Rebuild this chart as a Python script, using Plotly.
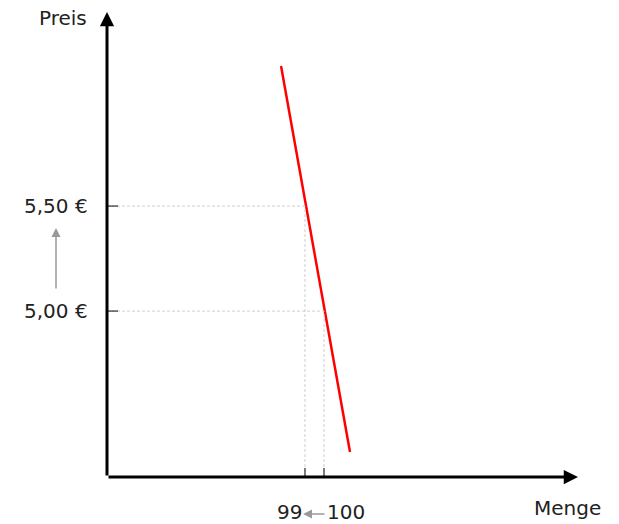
import plotly.graph_objects as go

# Daten
menge_linie = [97.74, 101.37]
preis_linie = [6.167, 4.329]
preis_ticks = [5.50, 5.00]
preis_labels = ["5,50 €", "5,00 €"]
menge_ticks = [99, 100]
menge_labels = ["99", "100"]

x_min, x_max = 88.58, 113.37
y_min, y_max = 4.21, 6.424

schrift = dict(family="DejaVu Sans", size=20, color="#222")
grau = "#cfcfcf"

fig = go.Figure()
fig.add_trace(go.Scatter(x=menge_linie, y=preis_linie, mode="lines",
                         line=dict(color="red", width=2.5), hoverinfo="skip"))

shapes = []
annotations = []

# gestrichelte Hilfslinien + Ticks
for p, m in zip(preis_ticks, menge_ticks):
    shapes.append(dict(type="line", xref="x", yref="y", x0=x_min, x1=m, y0=p, y1=p,
                       line=dict(color=grau, width=1, dash="3px,2px")))
    shapes.append(dict(type="line", xref="x", yref="y", x0=m, x1=m, y0=y_min, y1=p,
                       line=dict(color=grau, width=1, dash="3px,2px")))
    # Tick an der y-Achse
    shapes.append(dict(type="line", xref="x", yref="y", xsizemode="pixel", xanchor=x_min,
                       x0=-10, x1=11, y0=p, y1=p, line=dict(color="#555", width=1.5)))
    # Tick an der x-Achse
    shapes.append(dict(type="line", xref="x", yref="y", ysizemode="pixel", yanchor=y_min,
                       y0=-11, y1=9, x0=m, x1=m, line=dict(color="#555", width=1.5)))

for p, txt in zip(preis_ticks, preis_labels):
    annotations.append(dict(text=txt, xref="paper", x=0, xshift=-17, xanchor="right",
                            yref="y", y=p, yanchor="middle", showarrow=False, font=schrift))

for m, txt, dx in zip(menge_ticks, menge_labels, [-15, 22]):
    annotations.append(dict(text=txt, xref="x", x=m, xshift=dx, xanchor="center",
                            yref="paper", y=0, yshift=-48, yanchor="bottom", borderpad=0,
                            showarrow=False, font=schrift))

# Achsen mit Pfeilen
annotations.append(dict(xref="paper", yref="paper", x=0, y=1, ax=0, ay=465, text="",
                        showarrow=True, arrowhead=2, arrowsize=0.95, arrowwidth=3,
                        arrowcolor="black"))
annotations.append(dict(xref="paper", yref="paper", x=1, y=0, ax=-471, ay=0, text="",
                        showarrow=True, arrowhead=2, arrowsize=0.95, arrowwidth=3,
                        arrowcolor="black"))

# Achsentitel
annotations.append(dict(text="Preis", xref="paper", x=0, xshift=-44, yref="paper", y=1,
                        yshift=-6, xanchor="center", yanchor="middle", borderpad=0,
                        showarrow=False, font=schrift))
annotations.append(dict(text="Menge", xref="paper", x=1, xshift=-11, yref="paper", y=0,
                        yshift=-31, xanchor="center", yanchor="middle", borderpad=0,
                        showarrow=False, font=schrift))

# graue Hinweispfeile
annotations.append(dict(xref="paper", yref="paper", x=0, xshift=-51, y=(477 - 228) / 465,
                        ax=0, ay=62, text="", showarrow=True, arrowhead=2, arrowsize=1.2,
                        arrowwidth=1.5, arrowcolor="#999"))
annotations.append(dict(xref="x", yref="paper", x=99, xshift=-2, y=0, yshift=-37,
                        ax=23, ay=0, text="", showarrow=True, arrowhead=2, arrowsize=1.2,
                        arrowwidth=1.5, arrowcolor="#999"))

fig.update_layout(
    width=619, height=524,
    margin=dict(l=107, r=41, t=12, b=47),
    paper_bgcolor="white", plot_bgcolor="white",
    showlegend=False,
    shapes=shapes, annotations=annotations,
    xaxis=dict(range=[x_min, x_max], visible=False, fixedrange=True),
    yaxis=dict(range=[y_min, y_max], visible=False, fixedrange=True),
)

# Seitenrand entfernen, damit die Figur das ganze Fenster fuellt
fig.write_html("out.html", config={"displayModeBar": False},
               post_script="document.body.style.margin='0';")
